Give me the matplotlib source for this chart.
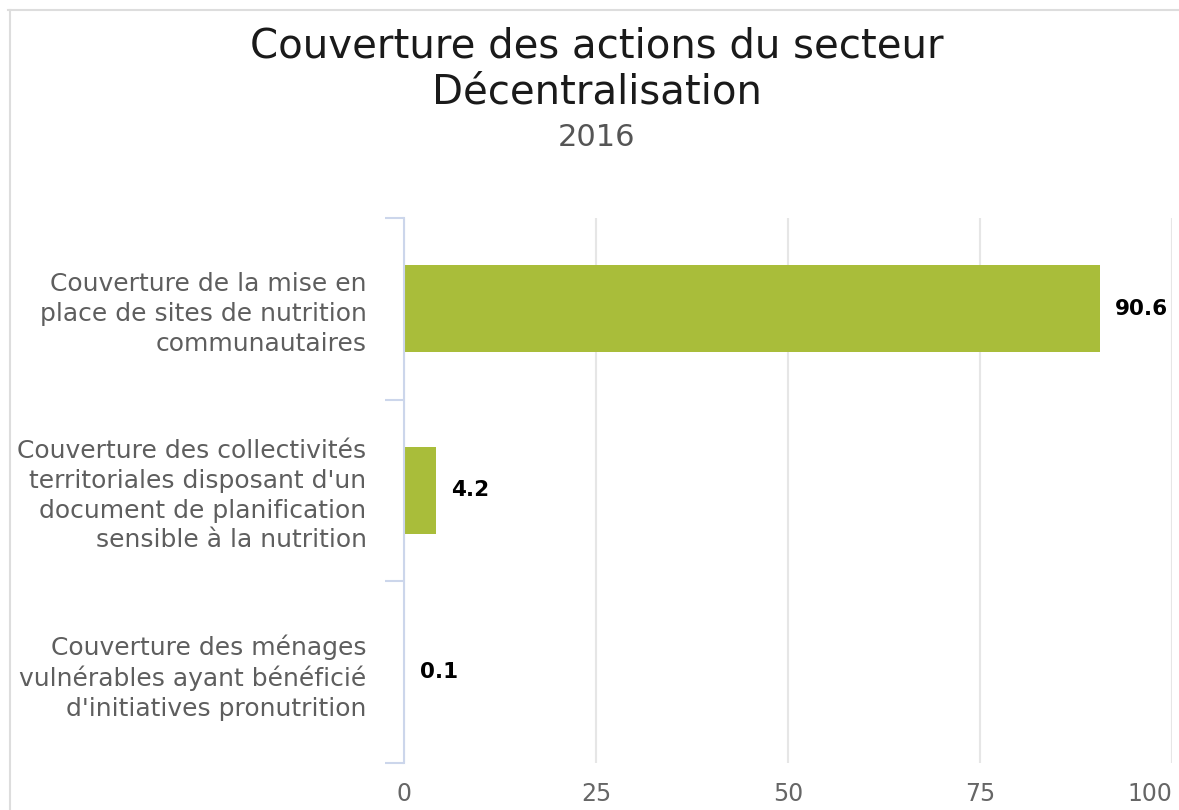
import matplotlib
matplotlib.use("Agg")
import matplotlib.pyplot as plt
from matplotlib.lines import Line2D

# data
categories = [
    "Couverture de la mise en\nplace de sites de nutrition\ncommunautaires",
    "Couverture des collectivités\nterritoriales disposant d'un\ndocument de planification\nsensible à la nutrition",
    "Couverture des ménages\nvulnérables ayant bénéficié\nd'initiatives pronutrition",
]
values = [90.6, 4.2, 0.1]
x_ticks = [0, 25, 50, 75, 100]

title_line1 = "Couverture des actions du secteur"
title_line2 = "Décentralisation"
subtitle = "2016"

W, H = 1179, 810
fig = plt.figure(figsize=(W / 100, H / 100), dpi=100)
fig.patch.set_facecolor("white")

# chart border (light grey frame, top and left visible)
fig.add_artist(Line2D([8 / W, 1.0], [1 - 10 / H, 1 - 10 / H],
                      transform=fig.transFigure, color="#dddddd", lw=1.5))
fig.add_artist(Line2D([10 / W, 10 / W], [1 - 10 / H, 0.0],
                      transform=fig.transFigure, color="#dddddd", lw=1.5))

left, right = 404 / W, 1172 / W
top, bottom = 1 - 218 / H, 1 - 763 / H
ax = fig.add_axes([left, bottom, right - left, top - bottom])

ypos = list(range(len(categories)))
ax.barh(ypos, values, height=0.48, color="#a9bd3a", zorder=3)

ax.set_xlim(0, 100)
ax.set_ylim(len(categories) - 0.5, -0.5)

# value labels
for y, v in zip(ypos, values):
    ax.annotate(f"{v:.1f}", xy=(v, y), xytext=(11, 0), textcoords="offset points",
                ha="left", va="center", fontsize=15.5, fontweight="bold",
                color="black", zorder=4)

# x axis: gridlines, no axis line
ax.set_xticks(x_ticks)
ax.set_xticklabels([str(t) for t in x_ticks])
ax.tick_params(axis="x", length=0, pad=14, labelsize=17, labelcolor="#666666")
ax.xaxis.grid(True, color="#e6e6e6", lw=1.5, zorder=0)
last = ax.get_xticklabels()[-1]
last.set_horizontalalignment("right")

# y axis: categories, boundary ticks
ax.set_yticks(ypos)
ax.set_yticklabels(categories)
ax.set_yticks([p - 0.5 for p in ypos] + [len(categories) - 0.5], minor=True)
ax.tick_params(axis="y", which="major", length=0, pad=27, labelsize=18,
               labelcolor="#5e5e5e")
ax.tick_params(axis="y", which="minor", length=14, width=1.5, color="#ccd6eb")
for lab in ax.get_yticklabels():
    lab.set_linespacing(1.3)

for s in ["top", "right", "bottom"]:
    ax.spines[s].set_visible(False)
ax.spines["left"].set_color("#ccd6eb")
ax.spines["left"].set_linewidth(1.5)
ax.spines["left"].set_zorder(5)

# titles
cx = 597 / W
fig.text(cx, 1 - 47 / H, title_line1, ha="center", va="center",
         fontsize=29, color="#1a1a1a")
fig.text(cx, 1 - 93 / H, title_line2, ha="center", va="center",
         fontsize=29, color="#1a1a1a")
fig.text(cx, 1 - 137 / H, subtitle, ha="center", va="center",
         fontsize=22, color="#555555")

fig.savefig("out.png", dpi=100)
